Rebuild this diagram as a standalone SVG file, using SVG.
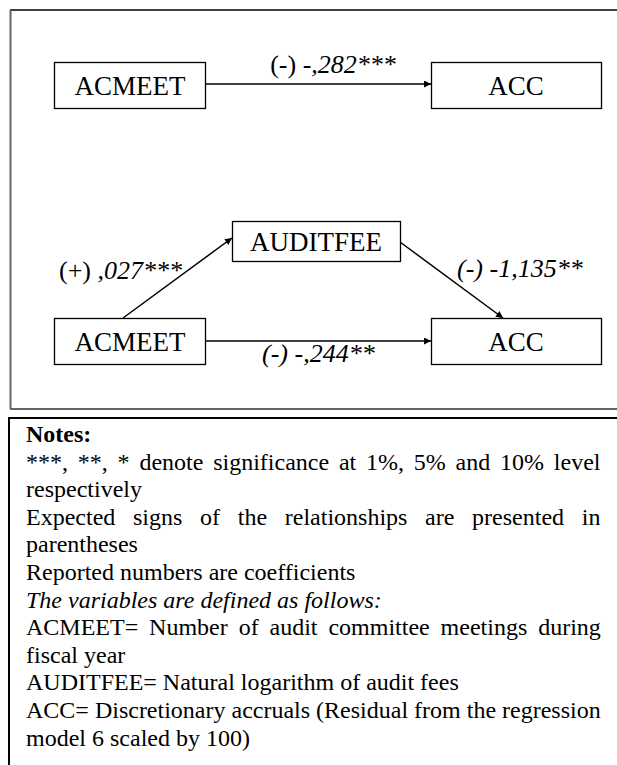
<svg xmlns="http://www.w3.org/2000/svg" width="617" height="765" viewBox="0 0 617 765">
  <style>
    .box { fill: #fff; stroke: #000; stroke-width: 1.3; }
    .name { font-family: "Liberation Serif", "Times New Roman", serif; font-size: 27px; fill: #000; text-anchor: middle; }
    .lbl { font-family: "Liberation Serif", "Times New Roman", serif; font-size: 26px; fill: #000; }
    .it { font-style: italic; }
    .edge { stroke: #000; stroke-width: 1.5; fill: none; marker-end: url(#ah); }
    .note { font-family: "Liberation Serif", "Times New Roman", serif; font-size: 24px; fill: #000; }
  </style>
  <defs>
    <marker id="ah" viewBox="0 0 10 10" refX="10" refY="5" markerWidth="8" markerHeight="7" markerUnits="userSpaceOnUse" orient="auto">
      <path d="M0,0 L10,5 L0,10 Z" fill="#000"/>
    </marker>
  </defs>
  <rect width="617" height="765" fill="#fff"/>

  <!-- figure frame -->
  <g id="frame">
    <line x1="10" y1="10" x2="617" y2="10" stroke="#000" stroke-width="1.3"/>
    <line x1="10.5" y1="10" x2="10.5" y2="409" stroke="#666" stroke-width="2"/>
    <line x1="10" y1="409" x2="617" y2="409" stroke="#666" stroke-width="2"/>
  </g>

  <!-- connectors -->
  <g id="connectors">
    <line class="edge" x1="206" y1="84" x2="431" y2="84"/>
    <line class="edge" x1="123" y1="318" x2="232" y2="238"/>
    <line class="edge" x1="400" y1="242" x2="503" y2="318"/>
    <line class="edge" x1="206" y1="341" x2="431" y2="341"/>
    <text class="lbl" x="333" y="73" text-anchor="middle">(-) -<tspan class="it">,282***</tspan></text>
    <text class="lbl" x="59" y="279">(+) <tspan class="it">,027***</tspan></text>
    <text class="lbl it" x="457" y="277">(-) -1,135**</text>
    <text class="lbl it" x="262" y="362">(-) -,244**</text>
  </g>

  <!-- model 1 -->
  <g id="acmeet1">
    <rect class="box" x="54.5" y="62.5" width="151" height="46"/>
    <text class="name" x="130" y="95">ACMEET</text>
  </g>
  <g id="acc1">
    <rect class="box" x="431.5" y="62.5" width="170" height="46"/>
    <text class="name" x="516" y="95">ACC</text>
  </g>

  <!-- model 2 -->
  <g id="auditfee">
    <rect class="box" x="232.5" y="221.5" width="168" height="40"/>
    <text class="name" x="316" y="251">AUDITFEE</text>
  </g>
  <g id="acmeet2">
    <rect class="box" x="54.5" y="318.5" width="151" height="46"/>
    <text class="name" x="130" y="351">ACMEET</text>
  </g>
  <g id="acc2">
    <rect class="box" x="431.5" y="318.5" width="170" height="46"/>
    <text class="name" x="516" y="351">ACC</text>
  </g>

  <!-- notes panel -->
  <g id="notes">
    <line x1="8" y1="418" x2="617" y2="418" stroke="#000" stroke-width="2"/>
    <line x1="9" y1="418" x2="9" y2="765" stroke="#000" stroke-width="2"/>
    <text class="note" x="26" y="442" font-weight="bold">Notes:</text>
    <text class="note" x="26" y="469.6" word-spacing="3.8">***, **, * denote significance at 1%, 5% and 10% level</text>
    <text class="note" x="26" y="497.2">respectively</text>
    <text class="note" x="26" y="524.8" word-spacing="11.7">Expected signs of the relationships are presented in</text>
    <text class="note" x="26" y="552.4">parentheses</text>
    <text class="note" x="26" y="580">Reported numbers are coefficients</text>
    <text class="note it" x="26" y="607.6">The variables are defined as follows:</text>
    <text class="note" x="26" y="635.2" word-spacing="4.9">ACMEET= Number of audit committee meetings during</text>
    <text class="note" x="26" y="662.8">fiscal year</text>
    <text class="note" x="26" y="690.4">AUDITFEE= Natural logarithm of audit fees</text>
    <text class="note" x="26" y="718">ACC= Discretionary accruals (Residual from the regression</text>
    <text class="note" x="26" y="745.6">model 6 scaled by 100)</text>
  </g>
</svg>
